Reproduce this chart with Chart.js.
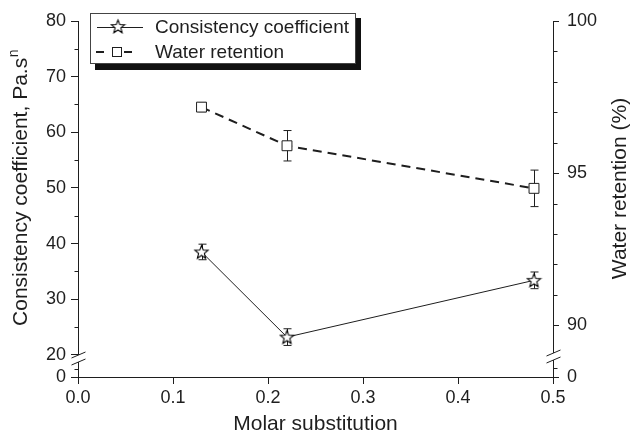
<!DOCTYPE html>
<html><head><meta charset="utf-8">
<script src="https://cdn.jsdelivr.net/npm/chart.js@4/dist/chart.umd.min.js"></script>
<style>html,body{margin:0;padding:0;background:#fff}#wrap{width:630px;height:435px}</style>
</head><body><div id="wrap"><canvas id="c" width="630" height="435"></canvas></div>
<script>
// ---- data ----
const molarSubstitution = [0.13, 0.22, 0.48];
const consistencyCoeff = [38.5, 23.2, 33.4];
const consistencyErr = [1.4, 1.5, 1.5];
const waterRetention = [97.17, 95.9, 94.5];
const waterErr = [0.15, 0.5, 0.6];
const xTicks = [0, 0.1, 0.2, 0.3, 0.4, 0.5];
const leftTicks = [20, 30, 40, 50, 60, 70, 80];
const leftMinor = [25, 35, 45, 55, 65, 75];
const rightTicks = [90, 95, 100];
const rightMinor = [91, 92, 93, 94, 96, 97, 98, 99];
const seriesLabels = ['Consistency coefficient', 'Water retention'];
const xTitle = 'Molar substitution';
const leftTitle = 'Consistency coefficient, Pa.s';
const leftTitleSup = 'n';
const rightTitle = 'Water retention (%)';

// axis-break geometry (scale units for the "0" shown below the break)
const LEFT_ZERO = 16.03, RIGHT_ZERO = 88.3;
const INK = '#1e1e1e';
const FONT = '"Liberation Sans", Arial, Helvetica, sans-serif';
Chart.defaults.font.family = FONT;
Chart.defaults.color = INK;

function makeStar() {
  const c = document.createElement('canvas'); c.width = 17; c.height = 17;
  const g = c.getContext('2d');
  g.beginPath();
  for (let i = 0; i < 10; i++) {
    const r = i % 2 ? 3.0 : 7.0;
    const a = -Math.PI / 2 + i * Math.PI / 5;
    const px = 8.5 + r * Math.cos(a), py = 9 + r * Math.sin(a);
    i ? g.lineTo(px, py) : g.moveTo(px, py);
  }
  g.closePath(); g.fillStyle = '#fff'; g.fill();
  g.lineWidth = 1.1; g.strokeStyle = '#000'; g.lineJoin = 'miter'; g.stroke();
  return c;
}
const starImg = makeStar();

const errors = [consistencyErr, waterErr];

const decor = {
  id: 'decor',
  beforeDatasetsDraw(chart) {
    const ctx = chart.ctx, xs = chart.scales.x;
    chart.data.datasets.forEach((ds, di) => {
      const ys = chart.scales[ds.yAxisID];
      ctx.save(); ctx.strokeStyle = INK; ctx.lineWidth = 1; ctx.setLineDash([]);
      ds.data.forEach((p, i) => {
        const e = errors[di][i];
        const px = Math.round(xs.getPixelForValue(p.x)) + 0.5;
        const t = ys.getPixelForValue(p.y + e), b = ys.getPixelForValue(p.y - e);
        ctx.beginPath();
        ctx.moveTo(px, t); ctx.lineTo(px, b);
        ctx.moveTo(px - 4, t); ctx.lineTo(px + 4, t);
        ctx.moveTo(px - 4, b); ctx.lineTo(px + 4, b);
        ctx.stroke();
      });
      ctx.restore();
    });
  },
  afterDraw(chart) {
    const ctx = chart.ctx, ca = chart.chartArea;
    const yl = chart.scales.y, yr = chart.scales.y2;
    ctx.save();
    ctx.strokeStyle = INK; ctx.lineWidth = 1;
    // minor ticks
    const L = Math.round(ca.left) + 0.5, R = Math.round(ca.right) + 0.5;
    ctx.beginPath();
    leftMinor.concat([17.4]).forEach(v => { const y = Math.round(yl.getPixelForValue(v)) + 0.5; ctx.moveTo(L, y); ctx.lineTo(L - 4, y); });
    rightMinor.concat([88.58]).forEach(v => { const y = Math.round(yr.getPixelForValue(v)) + 0.5; ctx.moveTo(R, y); ctx.lineTo(R + 4, y); });
    ctx.stroke();
    // axis breaks
    const bottom = ca.bottom;
    function brk(x, y1, y2) {
      ctx.fillStyle = '#fff'; ctx.fillRect(x - 2, y1, 4, y2 - y1);
      ctx.beginPath();
      [y1, y2].forEach(y => { ctx.moveTo(x - 7, y + 3); ctx.lineTo(x + 7, y - 3); });
      ctx.stroke();
    }
    brk(L, bottom - 22, bottom - 15);
    brk(R, bottom - 24, bottom - 17);
    // y titles
    ctx.fillStyle = INK;
    ctx.textBaseline = 'alphabetic';
    ctx.font = '21px ' + FONT;
    const w1 = ctx.measureText(leftTitle).width;
    ctx.font = '14px ' + FONT;
    const w2 = ctx.measureText(leftTitleSup).width;
    ctx.save(); ctx.translate(27, 188); ctx.rotate(-Math.PI / 2);
    const sx = -(w1 + w2) / 2;
    ctx.font = '21px ' + FONT; ctx.textAlign = 'left'; ctx.fillText(leftTitle, sx, 0);
    ctx.font = '14px ' + FONT; ctx.fillText(leftTitleSup, sx + w1 + 0.5, -9);
    ctx.restore();
    ctx.save(); ctx.translate(626, 188.5); ctx.rotate(-Math.PI / 2);
    ctx.font = '21px ' + FONT; ctx.textAlign = 'center'; ctx.fillText(rightTitle, 0, 0);
    ctx.restore();
    // legend box
    const bx = 90, by = 13, bw = 266, bh = 51;
    ctx.fillStyle = '#111'; ctx.fillRect(bx + 5, by + 5, bw, bh + 1);
    ctx.fillStyle = '#fff'; ctx.fillRect(bx, by, bw, bh);
    ctx.strokeStyle = '#444'; ctx.strokeRect(bx + 0.5, by + 0.5, bw - 1, bh - 1);
    const r1 = 27, r2 = 52;
    ctx.strokeStyle = INK;
    ctx.lineWidth = 1; ctx.beginPath(); ctx.moveTo(97, r1 + 0.5); ctx.lineTo(143, r1 + 0.5); ctx.stroke();
    ctx.drawImage(starImg, 118 - 8.5, r1 - 9);
    ctx.lineWidth = 2; ctx.beginPath();
    ctx.moveTo(96, r2); ctx.lineTo(104, r2); ctx.moveTo(124, r2); ctx.lineTo(132, r2); ctx.stroke();
    ctx.lineWidth = 1; ctx.fillStyle = '#fff';
    ctx.fillRect(112, r2 - 5, 10, 10); ctx.strokeRect(112.5, r2 - 4.5, 9, 9);
    ctx.fillStyle = INK; ctx.font = '19px ' + FONT; ctx.textBaseline = 'middle'; ctx.textAlign = 'left';
    ctx.fillText(seriesLabels[0], 155, r1 + 1);
    ctx.fillText(seriesLabels[1], 155, r2 + 1);
    ctx.restore();
  }
};

const axisGrid = { drawOnChartArea: false, drawTicks: true, tickLength: 7, color: INK, lineWidth: 1 };
const axisBorder = { display: true, color: INK, width: 1 };

new Chart(document.getElementById('c'), {
  type: 'line',
  data: {
    datasets: [
      {
        label: seriesLabels[0], yAxisID: 'y',
        data: molarSubstitution.map((x, i) => ({ x, y: consistencyCoeff[i] })),
        borderColor: INK, borderWidth: 1, pointStyle: starImg, pointRadius: 7, pointHoverRadius: 7
      },
      {
        label: seriesLabels[1], yAxisID: 'y2',
        data: molarSubstitution.map((x, i) => ({ x, y: waterRetention[i] })),
        borderColor: INK, borderWidth: 2, borderDash: [9, 6],
        pointStyle: 'rect', pointRadius: 7, pointHoverRadius: 7,
        pointBackgroundColor: '#fff', pointBorderColor: INK, pointBorderWidth: 1
      }
    ]
  },
  options: {
    responsive: false, animation: false, devicePixelRatio: 1,
    layout: { padding: { top: 21, left: 0, right: 0, bottom: 0 } },
    plugins: { legend: { display: false }, tooltip: { enabled: false } },
    scales: {
      x: {
        type: 'linear', min: 0, max: 0.5,
        afterBuildTicks: s => { s.ticks = xTicks.map(v => ({ value: v })); },
        ticks: { font: { size: 18 }, padding: 3, callback: v => v.toFixed(1), color: INK },
        grid: axisGrid, border: axisBorder,
        title: { display: true, text: xTitle, font: { size: 21, lineHeight: 1 }, padding: { top: 0, bottom: 0 }, color: INK },
        afterFit: s => { s.height = 58; }
      },
      y: {
        type: 'linear', position: 'left', min: LEFT_ZERO, max: 80,
        afterBuildTicks: s => { s.ticks = [LEFT_ZERO].concat(leftTicks).map(v => ({ value: v })); },
        ticks: { font: { size: 18 }, padding: 5, color: INK, callback: v => v < 20 ? '0' : String(v) },
        grid: axisGrid, border: axisBorder,
        afterFit: s => { s.width = 78; }
      },
      y2: {
        type: 'linear', position: 'right', min: RIGHT_ZERO, max: 100,
        afterBuildTicks: s => { s.ticks = [RIGHT_ZERO].concat(rightTicks).map(v => ({ value: v })); },
        ticks: { font: { size: 18 }, padding: 8, color: INK, callback: v => v < 90 ? '0' : String(v) },
        grid: Object.assign({}, axisGrid, { tickLength: 6 }), border: axisBorder,
        afterFit: s => { s.width = 77; }
      }
    }
  },
  plugins: [decor]
});
</script>
</body></html>
